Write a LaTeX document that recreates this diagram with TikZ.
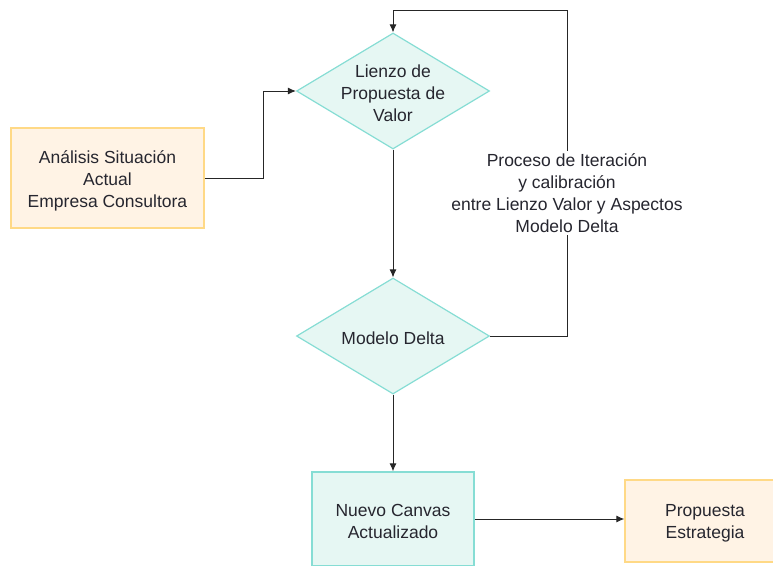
\documentclass[tikz,border=0pt]{standalone}
\usepackage{fontspec}
\setmainfont{Liberation Sans}
\usetikzlibrary{shapes.geometric,arrows.meta}

\definecolor{boxorange}{HTML}{FFF3E5}
\definecolor{lineorange}{HTML}{FFD986}
\definecolor{boxteal}{HTML}{E6F7F3}
\definecolor{lineteal}{HTML}{86DDD4}
\definecolor{textgray}{HTML}{26262F}

\tikzset{
    txt/.style={align=center, text=textgray, font=\fontsize{17.5}{22}\selectfont},
    intxt/.style={txt, yshift=-2.5pt},
    orangebox/.style={rectangle, draw=lineorange, fill=boxorange, line width=1.4pt},
    tealbox/.style={rectangle, draw=lineteal, fill=boxteal, line width=1.4pt},
    dia/.style={diamond, draw=lineteal, fill=boxteal, line width=1.2pt, inner sep=0pt,
                minimum width=193pt, minimum height=116pt},
    conn/.style={line width=0.9pt, black!85},
    arr/.style={conn, -{Latex[length=8pt,width=7pt]}}
}

\begin{document}
\begin{tikzpicture}[x=1pt, y=-1pt]
        % 1. Page size
        \useasboundingbox (0,0) rectangle (773,565);
        \clip (0,0) rectangle (773,565);

        % 2. Boxes and diamonds
        \node[orangebox, minimum width=193pt, minimum height=100pt] (analisis) at (107.5,178) {};
        \node[intxt] (analisistxt) at (analisis) {Análisis Situación\\Actual\\Empresa Consultora};
        \node[dia] (lienzo) at (393,91) {};
        \node[intxt] (lienzotxt) at (lienzo) {Lienzo de\\Propuesta de\\Valor};
        \node[dia] (delta) at (393,336) {};
        \node[intxt] (deltatxt) at (delta) {Modelo Delta};
        \node[tealbox, minimum width=162pt, minimum height=94pt] (nuevo) at (393,519) {};
        \node[intxt] (nuevotxt) at (nuevo) {Nuevo Canvas\\Actualizado};
        \node[orangebox, minimum width=160pt, minimum height=82pt] (propuesta) at (705,521) {};
        \node[intxt] (propuestatxt) at (propuesta) {Propuesta\\Estrategia};

        % 3. Connectors
        \draw[arr] (analisis.east) -- ++(59,0) |- (lienzo.west);
        \draw[arr] (lienzo.south) -- (delta.north);
        \draw[arr] (delta.south) -- (nuevo.north);
        \draw[arr] (nuevo.east) -- (nuevo.east -| propuesta.west);

        % 4. Loop back to the top diamond
        \coordinate (loopcorner) at (567,10);
        \draw[arr] (delta.east) -| (loopcorner) -| (lienzo.north);
        \node[txt, fill=white, inner sep=2pt] (iteracion) at (567,193)
            {Proceso de Iteración\\y calibración\\entre Lienzo Valor y Aspectos\\Modelo Delta};
\end{tikzpicture}
\end{document}
